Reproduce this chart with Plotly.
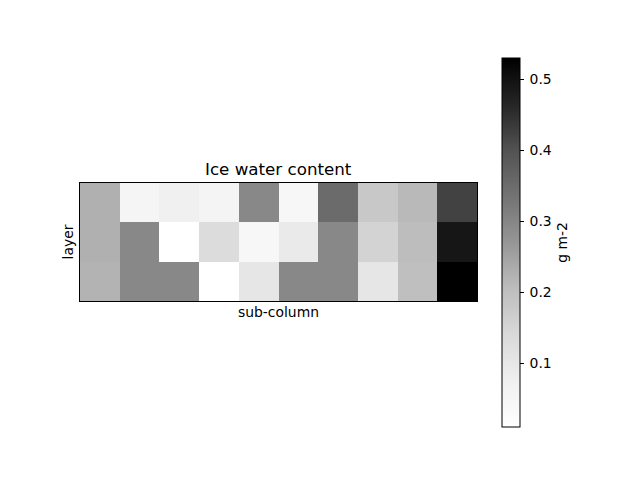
import plotly.graph_objects as go

sub_columns = list(range(10))
layers = [0, 1, 2]
iwc = [
    [0.227, 0.053, 0.075, 0.058, 0.296, 0.045, 0.351, 0.180, 0.212, 0.423],
    [0.227, 0.296, 0.010, 0.132, 0.045, 0.092, 0.296, 0.154, 0.205, 0.491],
    [0.222, 0.296, 0.296, 0.010, 0.103, 0.296, 0.296, 0.103, 0.200, 0.530],
]
cbar_ticks = [0.1, 0.2, 0.3, 0.4, 0.5]

greys = [
    [0.0, "#ffffff"], [0.125, "#f0f0f0"], [0.25, "#d9d9d9"], [0.375, "#bdbdbd"],
    [0.5, "#969696"], [0.625, "#737373"], [0.75, "#525252"], [0.875, "#252525"],
    [1.0, "#000000"],
]

FONT = "DejaVu Sans"
L, R, T, B = 80, 477, 183, 301
W, H = 640, 480
pw, ph = R - L, B - T

fig = go.Figure(go.Heatmap(
    x=sub_columns, y=layers, z=iwc,
    colorscale=greys, zmin=0.01, zmax=0.53,
    colorbar=dict(
        x=(502 - L) / pw, xanchor="left", xref="paper",
        y=(B - 242.5) / ph, yanchor="middle", yref="paper",
        lenmode="pixels", len=369, thickness=18, thicknessmode="pixels",
        outlinecolor="black", outlinewidth=1,
        tickvals=cbar_ticks, ticktext=[f"\u2009{v:.1f}" for v in cbar_ticks],
        ticks="outside", ticklen=4, tickcolor="black",
        tickfont=dict(family=FONT, size=13.9, color="black"),
        title=dict(text="g m-2", side="right", font=dict(family=FONT, size=13.9, color="black")),
        xpad=0, ypad=0,
    ),
))

fig.update_layout(
    width=W, height=H,
    margin=dict(l=L, r=W - R, t=T, b=H - B),
    paper_bgcolor="white", plot_bgcolor="white",
    font=dict(family=FONT, color="black"),
    xaxis=dict(range=[-0.5, 9.5], showticklabels=False, ticks="", showgrid=False, zeroline=False,
               showline=True, linecolor="black", linewidth=1, mirror=True,
               title=dict(text="sub-column", standoff=6, font=dict(family=FONT, size=13.9))),
    yaxis=dict(range=[2.5, -0.5], showticklabels=False, ticks="", showgrid=False, zeroline=False,
               showline=True, linecolor="black", linewidth=1, mirror=True,
               title=dict(text="layer", standoff=2, font=dict(family=FONT, size=13.9))),
    annotations=[dict(text="Ice water content", x=0.5, xref="paper", y=1, yref="paper",
                      yanchor="bottom", yshift=2, showarrow=False,
                      font=dict(family=FONT, size=16.7, color="black"))],
)

fig.write_html("out.html")
